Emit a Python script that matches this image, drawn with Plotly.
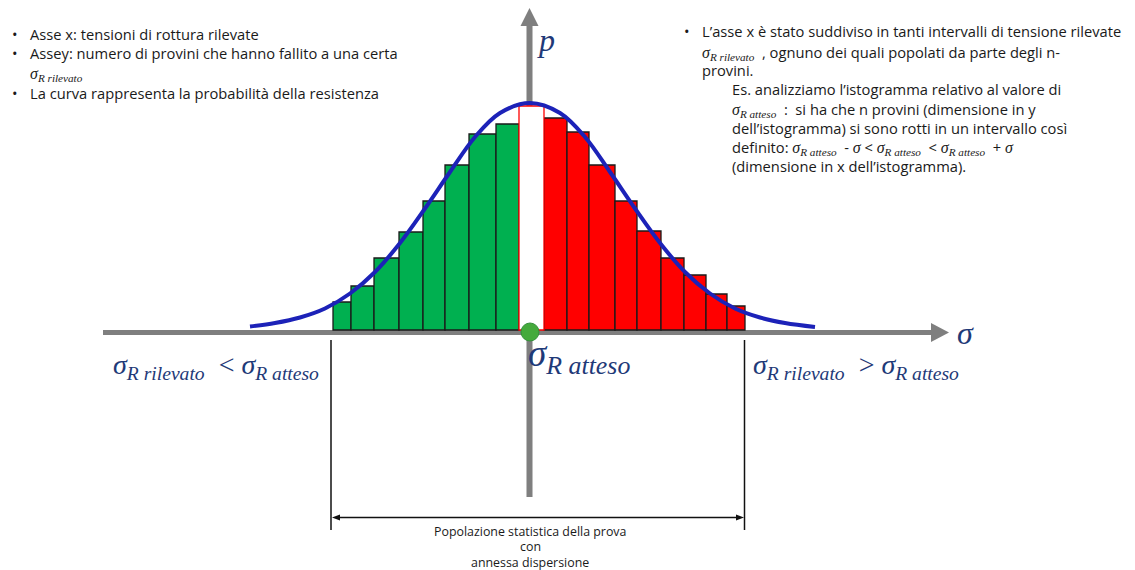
import plotly.graph_objects as go

# ---- histogram of failure stresses (bin edges and counts, drawing units) ----
green_edges = [333, 351, 374, 399, 423, 445, 469, 496, 519]
green_counts = [28, 44, 72, 98, 129, 165, 196, 206]

centre_edges = [519, 544]
centre_counts = [224]

red_edges = [544, 567, 589, 615, 637, 661, 684, 706, 727, 745]
red_counts = [212, 198, 165, 129, 99, 72, 55, 36, 24]

# ---- probability curve (sampled points) ----
curve_x = [250, 275, 300, 325, 350, 375, 400, 425, 450, 475, 500, 530,
           560, 585, 610, 635, 660, 685, 710, 735, 760, 785, 815]
curve_y = [3.5, 7, 12.5, 21.5, 36.5, 58, 87, 121.5, 158, 193, 217, 227,
           217, 193, 158, 121.5, 87, 58, 36.5, 21.5, 12.5, 7, 3]

# expected strength marker
expected_x = [530]
expected_y = [-2]

W, H = 1135, 570
Y_TOP = 330  # vertical offset of the baseline from the top edge


def y_of(py):
    return Y_TOP - py


def bar_geom(edges):
    centres = [(a + b) / 2 for a, b in zip(edges[:-1], edges[1:])]
    widths = [b - a for a, b in zip(edges[:-1], edges[1:])]
    return centres, widths


fig = go.Figure()

for edges, counts, fill, edge_col in [
    (green_edges, green_counts, "#00B050", "#1a1a1a"),
    (red_edges, red_counts, "#FF0000", "#1a1a1a"),
    (centre_edges, centre_counts, "#FFFFFF", "#FF0000"),
]:
    cx, wd = bar_geom(edges)
    fig.add_trace(go.Bar(
        x=cx, y=counts, width=wd, base=0,
        marker=dict(color=fill, line=dict(color=edge_col, width=1.3)),
        hoverinfo="skip",
    ))

fig.add_trace(go.Scatter(
    x=curve_x, y=curve_y, mode="lines",
    line=dict(color="#1C22B8", width=4, shape="spline", smoothing=1.0),
    hoverinfo="skip",
))

fig.add_trace(go.Scatter(
    x=expected_x, y=expected_y, mode="markers",
    marker=dict(size=18, color="#45AA3C", line=dict(color="#35903A", width=1)),
    hoverinfo="skip",
))

# ---- axes of the diagram (gray arrows) ----
GRAY = "#7F7F7F"
ax_y = y_of(332.5)
ax_x = 529.5
shapes = [
    dict(type="line", x0=103, x1=933, y0=ax_y, y1=ax_y,
         line=dict(color=GRAY, width=5), layer="below"),
    dict(type="path", path=f"M 931,{y_of(323)} L 949,{ax_y} L 931,{y_of(342)} Z",
         fillcolor=GRAY, line=dict(width=0), layer="below"),
    dict(type="line", x0=ax_x, x1=ax_x, y0=y_of(497), y1=y_of(24),
         line=dict(color=GRAY, width=6), layer="below"),
    dict(type="path", path=f"M 520.5,{y_of(26)} L {ax_x},{y_of(8)} L 538.5,{y_of(26)} Z",
         fillcolor=GRAY, line=dict(width=0), layer="below"),
    # population span markers
    dict(type="line", x0=331, x1=331, y0=y_of(340), y1=y_of(530),
         line=dict(color="#111111", width=1.5)),
    dict(type="line", x0=744.5, x1=744.5, y0=y_of(340), y1=y_of(530),
         line=dict(color="#111111", width=1.5)),
    dict(type="line", x0=336, x1=740, y0=y_of(517.5), y1=y_of(517.5),
         line=dict(color="#111111", width=1.5)),
    dict(type="path", path=f"M 332,{y_of(517.5)} L 340,{y_of(514.5)} L 340,{y_of(520.5)} Z",
         fillcolor="#111111", line=dict(width=0)),
    dict(type="path", path=f"M 744,{y_of(517.5)} L 736,{y_of(514.5)} L 736,{y_of(520.5)} Z",
         fillcolor="#111111", line=dict(width=0)),
]

SANS = "Open Sans"
SERIF = "Liberation Serif"
NAVY = "#1F3A78"
TXT = "#1a1a1a"
BODY = 14.7


def m(sub, size=16):
    st = f"font-family:{SERIF};font-size:{size}px;"
    return f"<span style='{st}'><i>σ<sub>{sub}</sub></i></span>"


def sig(size=16):
    st = f"font-family:{SERIF};font-size:{size}px;"
    return f"<span style='{st}'><i>σ</i></span>"


annotations = []


def txt(x, py, text, size=BODY, color=TXT, family=SANS, xanchor="left"):
    annotations.append(dict(
        x=x, y=y_of(py), xref="x", yref="y", text=text, showarrow=False,
        xanchor=xanchor, yanchor="middle", align="left",
        font=dict(family=family, size=size, color=color),
    ))


# left notes
txt(10, 34, "•")
txt(28, 34, "Asse x: tensioni di rottura rilevate")
txt(10, 53, "•")
txt(28, 53, "Assey: numero di provini che hanno fallito a una certa")
txt(28, 74, m("R rilevato"))
txt(10, 93, "•")
txt(28, 93, "La curva rappresenta la probabilità della resistenza")

# right notes
txt(682, 31, "•")
txt(700, 31, "L’asse x è stato suddiviso in tanti intervalli di tensione rilevate")
txt(700, 52, m("R rilevato") + "  , ognuno dei quali popolati da parte degli n-")
txt(700, 70, "provini.")
txt(730, 89, "Es. analizziamo l’istogramma relativo al valore di")
txt(730, 109, m("R atteso") + "  :  si ha che n provini (dimensione in y")
txt(730, 128, "dell’istogramma) si sono rotti in un intervallo così")
txt(730, 147, "definito: " + m("R atteso") + "  - " + sig() + " < "
    + m("R atteso") + "  < " + m("R atteso") + "  + " + sig())
txt(730, 166, "(dimensione in x dell’istogramma).")

# diagram labels
txt(965, 333, "<i>σ</i>", size=32, color=NAVY, family=SERIF, xanchor="center")
txt(546, 40, "<i>p</i>", size=32, color=NAVY, family=SERIF, xanchor="center")
txt(526, 356, "<i>σ<sub>R atteso</sub></i>", size=37, color=NAVY, family=SERIF)
txt(111, 366, "<i>σ<sub>R rilevato</sub></i>  &lt; <i>σ<sub>R atteso</sub></i>",
    size=28, color=NAVY, family=SERIF)
txt(751, 366, "<i>σ<sub>R rilevato</sub></i>  &gt; <i>σ<sub>R atteso</sub></i>",
    size=28, color=NAVY, family=SERIF)

# population caption
txt(530, 531, "Popolazione statistica della prova", size=12.4, xanchor="center")
txt(530, 546, "con", size=12.4, xanchor="center")
txt(530, 562, "annessa dispersione", size=12.4, xanchor="center")

fig.update_layout(
    width=W, height=H,
    margin=dict(l=0, r=0, t=0, b=0),
    paper_bgcolor="white", plot_bgcolor="white",
    showlegend=False, barmode="overlay",
    xaxis=dict(range=[0, W], visible=False, fixedrange=True),
    yaxis=dict(range=[Y_TOP - H, Y_TOP], visible=False, fixedrange=True),
    shapes=shapes, annotations=annotations,
)

fig.write_html("out.html")
